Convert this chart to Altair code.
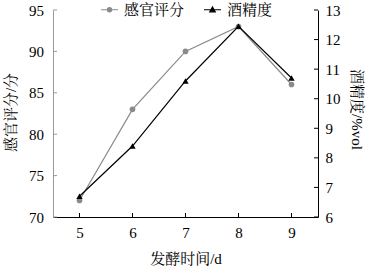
import altair as alt
import pandas as pd

days = [5, 6, 7, 8, 9]
score = [72, 83, 90, 93, 86]
alcohol = [6.7, 8.4, 10.6, 12.45, 10.7]
series = ["感官评分", "酒精度"]
colors = ["#8a8a8a", "#000000"]
score_ticks = [70, 75, 80, 85, 90, 95]
alc_ticks = [6, 7, 8, 9, 10, 11, 12, 13]

df = pd.DataFrame({"day": days, "score": score, "alcohol": alcohol})
score_tick_df = pd.DataFrame({"score": score_ticks})
alc_tick_df = pd.DataFrame({"alcohol": alc_ticks})
day_tick_df = pd.DataFrame({"day": days})
legend_df = pd.DataFrame({"series": series})

W, H = 265, 207
FONT = "Liberation Serif, Times New Roman, Noto Serif CJK SC, Noto Sans CJK SC, serif"

x_scale = alt.Scale(domain=[4.5, 9.5], nice=False, zero=False)
score_scale = alt.Scale(domain=[70, 95], nice=False, zero=False)
alc_scale = alt.Scale(domain=[6, 13], nice=False, zero=False)

x_axis = alt.Axis(
    values=days, title="发酵时间/d", format="d", ticks=False,
    labelPadding=8, domainColor="#000",
    titleY=41, titleBaseline="middle",
)
score_axis = alt.Axis(
    values=score_ticks, title="感官评分/分", orient="left", ticks=False,
    labelPadding=9.5, domainColor="#999999",
    titleX=-43, titleY=102, titleAngle=-90, titleBaseline="middle", titleAlign="center",
)
alc_axis = alt.Axis(
    values=alc_ticks, title="酒精度/%vol", orient="right", ticks=False,
    labelPadding=7, domainColor="#000",
    titleX=38, titleY=99, titleAngle=90, titleBaseline="middle", titleAlign="center",
)

x_enc = alt.X("day:Q", scale=x_scale, axis=x_axis)
y_score = alt.Y("score:Q", scale=score_scale, axis=score_axis)
y_alc = alt.Y("alcohol:Q", scale=alc_scale, axis=alc_axis)

circle_path = "M-1,0H1M0.25,0A0.25,0.25,0,1,1,-0.25,0A0.25,0.25,0,1,1,0.25,0Z"
tri_path = "M-1,0H1M0,-0.32L0.32,0.24L-0.32,0.24Z"

color_scale = alt.Scale(domain=series, range=colors)
shape_scale = alt.Scale(domain=series, range=[circle_path, tri_path])

legend = alt.Legend(
    title=None, orient="none", direction="horizontal",
    legendX=47, legendY=-10, padding=0,
    symbolSize=289, symbolStrokeWidth=1.2, symbolOpacity=1,
    labelOffset=5, columnPadding=16,
    labelFont=FONT, labelFontSize=15, labelColor="#000",
)

base = alt.Chart(df).encode(x=x_enc)

score_line = base.mark_line(strokeWidth=1.2, color=colors[0]).encode(y=y_score)
score_pts = base.mark_point(filled=True, size=32, shape="circle", opacity=1, color=colors[0]).encode(y=y_score)
alc_line = base.mark_line(strokeWidth=1.2, color=colors[1]).encode(y=y_alc)
alc_pts = base.mark_point(filled=True, size=40, shape="triangle-up", opacity=1, color=colors[1]).encode(y=y_alc)

legend_layer = (
    alt.Chart(legend_df)
    .transform_filter("false")
    .mark_point(filled=True, opacity=1, strokeWidth=1.2)
    .encode(
        color=alt.Color("series:N", scale=color_scale, legend=legend),
        stroke=alt.Stroke("series:N", scale=color_scale, legend=legend),
        shape=alt.Shape("series:N", scale=shape_scale, legend=legend),
    )
)

left_ticks = alt.Chart(score_tick_df).mark_rule(color="#999999", strokeWidth=1).encode(
    y=y_score, x=alt.value(0), x2=alt.value(4)
)
right_ticks = alt.Chart(alc_tick_df).mark_rule(color="#000", strokeWidth=1).encode(
    y=y_alc, x=alt.value(W), x2=alt.value(W - 4)
)
bottom_ticks = alt.Chart(day_tick_df).mark_rule(color="#000", strokeWidth=1).encode(
    x=x_enc, y=alt.value(H), y2=alt.value(H - 4)
)

chart = (
    alt.layer(
        alt.layer(score_line, score_pts, left_ticks, bottom_ticks, legend_layer),
        alt.layer(alc_line, alc_pts, right_ticks),
    )
    .resolve_scale(y="independent")
    .properties(
        width=W, height=H,
        autosize=alt.AutoSizeParams(type="none"),
        padding={"left": 53, "top": 10, "right": 50, "bottom": 54},
        background="white",
    )
    .configure_view(stroke=None)
    .configure_axis(
        grid=False, labelFont=FONT, labelFontSize=15, labelColor="#000",
        titleFont=FONT, titleFontSize=15, titleColor="#000", titleFontWeight="normal",
        domainWidth=1,
    )
)

chart.save("out.html", embed_options={"renderer": "svg", "actions": False})
